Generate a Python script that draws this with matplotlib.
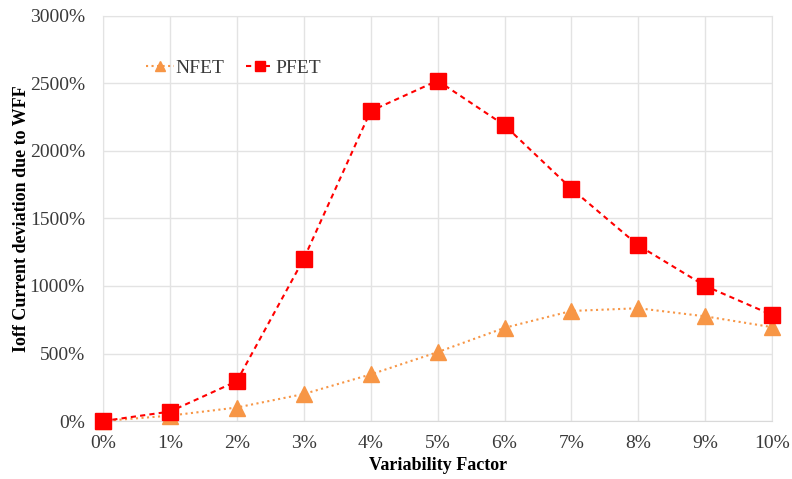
import matplotlib.pyplot as plt
from matplotlib.ticker import FuncFormatter

# Data (values in %)
factors = [0, 1, 2, 3, 4, 5, 6, 7, 8, 9, 10]
nfet = [0, 40, 100, 200, 345, 510, 690, 815, 835, 775, 695]
pfet = [0, 70, 295, 1200, 2295, 2520, 2190, 1720, 1300, 1000, 785]

plt.rcParams['font.family'] = ['Liberation Serif', 'DejaVu Serif']

fig = plt.figure(figsize=(7.92, 4.79), dpi=100)
ax = fig.add_axes([0.130, 0.121, 0.845, 0.846])

ax.plot(factors, nfet, color='#F79646', linestyle=':', linewidth=1.5,
        marker='^', markersize=11, label='NFET', zorder=3, clip_on=False)
ax.plot(factors, pfet, color='#FF0000', linestyle=(0, (2.5, 2)), linewidth=1.5,
        marker='s', markersize=11, label='PFET', zorder=4, clip_on=False)

ax.set_xlim(0, 10)
ax.set_ylim(0, 3000)
ax.set_xticks(factors)
ax.set_yticks(range(0, 3001, 500))
ax.xaxis.set_major_formatter(FuncFormatter(lambda v, p: f'{v:.0f}%'))
ax.yaxis.set_major_formatter(FuncFormatter(lambda v, p: f'{v:.0f}%'))
ax.tick_params(length=0, labelsize=14, colors='#3a3a3a')
ax.tick_params(axis='y', pad=13)
ax.tick_params(axis='x', pad=10)
ax.grid(True, color='#E3E3E3', linewidth=1)
ax.set_axisbelow(True)
for s in ax.spines.values():
    s.set_color('#E3E3E3')
ax.spines['bottom'].set_color('#D9D9D9')

ax.set_xlabel('Variability Factor', fontsize=13, fontweight='bold', labelpad=4)
ax.set_ylabel('Ioff Current deviation due to WFF', fontsize=13, fontweight='bold', labelpad=0)

leg = ax.legend(loc='upper left', bbox_to_anchor=(0.065, 0.893), ncol=2, frameon=False,
                fontsize=14, handlelength=1.4, markerscale=0.7, columnspacing=1.1,
                handletextpad=0.1, borderpad=0, borderaxespad=0)
for t in leg.get_texts():
    t.set_color('#3a3a3a')

fig.savefig('out.png', dpi=100)
